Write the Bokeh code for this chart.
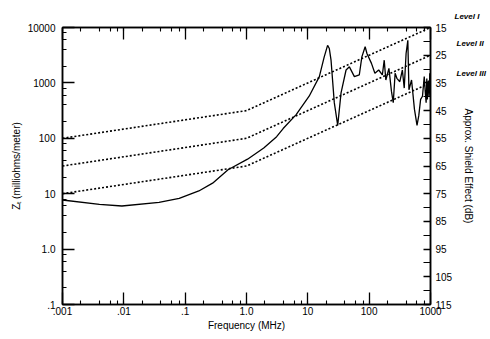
import math
import numpy as np
from bokeh.plotting import figure
from bokeh.models import (Range1d, LinearAxis, LogAxis, LogTicker, FixedTicker,
                          CustomJSTickFormatter, LinearScale)
from bokeh.embed import file_html
from bokeh.resources import INLINE

# Transfer impedance curve (frequency in MHz, Zt in milliohms/meter)
freq_mhz = [0.001, 0.004, 0.0093, 0.0375, 0.08, 0.167, 0.28, 0.5, 1.04, 1.91,
            3.1, 3.96, 6.45, 10.5, 15.4, 18.5, 21, 22.4, 23.9, 27, 30.7, 34.8,
            42, 47.6, 57.4, 69, 76, 86, 92, 109, 124, 143, 164, 176, 187, 210,
            231, 247, 265, 283, 316, 348, 373, 400, 427, 445, 491, 547, 603,
            644, 690, 740, 791, 820, 849, 870, 890, 910, 930, 948, 960, 973,
            985, 1000]
zt = [7.7, 6.4, 6.0, 7.0, 8.2, 11.2, 15.5, 27, 42, 67,
      107, 150, 268, 575, 1300, 2950, 4770, 4170, 2570, 440, 171, 659,
      1710, 1950, 1300, 1390, 2950, 4500, 3390, 2250, 1490, 1710, 1390, 2570, 1130, 1830,
      703, 440, 1490, 1210, 1050, 1710, 807, 3390, 5860, 753, 1130, 336, 171,
      256, 504, 575, 1300, 700, 440, 1200, 500, 988, 1100, 575, 700, 1490,
      1300, 900]

# Shielding level lines
level_freq = [0.001, 1.0, 1000.0]
level_1 = [100, 316, 10000]
level_2 = [31.6, 100, 3162]
level_3 = [10, 31.6, 1000]
level_names = ["Level I", "Level II", "Level III"]

x_tick_labels = [".001", ".01", ".1", "1.0", "10", "100", "1000"]
y_tick_labels = [".1", "1.0", "10", "100", "1000", "10000"]
db_ticks = [15, 25, 35, 45, 55, 65, 75, 85, 95, 105, 115]
db_minor = [20, 30, 40, 50, 60, 70, 80, 90, 100, 110]

FONT = "Liberation Sans"

p = figure(x_axis_type="log", y_axis_type="log",
           x_range=Range1d(0.001, 1000), y_range=Range1d(0.1, 10000),
           width=490, height=336,
           min_border_left=62, min_border_top=27, min_border_right=60, min_border_bottom=32,
           output_backend="svg", toolbar_location=None)
p.xgrid.visible = False
p.ygrid.visible = False
p.outline_line_color = "black"
p.outline_line_width = 1.5
p.background_fill_color = "white"
p.border_fill_color = "white"

# "Level I" label sits above the frame, right of the plot
p.title.text = level_names[0]
p.title.align = "left"
p.title.offset = 392
p.title.standoff = 14
p.title.text_font = FONT
p.title.text_font_size = "8px"
p.title.text_font_style = "bold italic"
p.title.text_color = "black"

xticker = LogTicker()
yticker = LogTicker()

def style_axis(ax, maj_in=12, min_in=4):
    ax.major_tick_in = maj_in
    ax.major_tick_out = 0
    ax.minor_tick_in = min_in
    ax.minor_tick_out = 0
    ax.axis_line_width = 1.5
    ax.major_tick_line_width = 1.3
    ax.minor_tick_line_width = 1.1
    ax.axis_line_color = "black"
    ax.major_tick_line_color = "black"
    ax.minor_tick_line_color = "black"
    ax.major_label_text_font = FONT
    ax.major_label_text_font_size = "10px"
    ax.major_label_text_color = "black"
    ax.axis_label_text_font = FONT
    ax.axis_label_text_font_size = "10px"
    ax.axis_label_text_font_style = "normal"
    ax.axis_label_text_color = "black"

xa = p.xaxis[0]
xa.ticker = xticker
xa.formatter = CustomJSTickFormatter(args=dict(labels=x_tick_labels),
    code="const e = Math.round(Math.log10(tick)) + 3; return (e >= 0 && e < labels.length) ? labels[e] : '';")
xa.axis_label = "Frequency (MHz)"
style_axis(xa)
xa.major_label_standoff = 2
xa.axis_label_standoff = 2

ya = p.yaxis[0]
ya.ticker = yticker
ya.formatter = CustomJSTickFormatter(args=dict(labels=y_tick_labels),
    code="const e = Math.round(Math.log10(tick)) + 1; return (e >= 0 && e < labels.length) ? labels[e] : '';")
ya.axis_label = "Z\u209c (milliohms/meter)"
style_axis(ya)
ya.major_label_standoff = 7
ya.axis_label_standoff = 3

top = LogAxis(ticker=xticker, formatter=CustomJSTickFormatter(code="return '';"))
style_axis(top)
top.major_label_standoff = 0
p.add_layout(top, "above")

p.extra_y_ranges = {"db": Range1d(start=115, end=15)}
p.extra_y_scales = {"db": LinearScale()}
right = LinearAxis(y_range_name="db", ticker=FixedTicker(ticks=db_ticks, minor_ticks=db_minor))
style_axis(right, maj_in=7, min_in=7)
right.major_label_standoff = 5
p.add_layout(right, "right")

# second right axis: carries the Level II / Level III names and the dB axis title
lev_pos = [20.8, 31.7]
lev_axis = LinearAxis(y_range_name="db", ticker=FixedTicker(ticks=lev_pos, minor_ticks=[]),
                      formatter=CustomJSTickFormatter(args=dict(names=level_names),
                          code="return tick < 26 ? names[1] : names[2];"),
                      axis_label="Approx. Shield Effect (dB)")
style_axis(lev_axis, maj_in=0, min_in=0)
lev_axis.axis_line_color = None
lev_axis.major_tick_line_color = None
lev_axis.minor_tick_line_color = None
lev_axis.major_label_standoff = 1
lev_axis.major_label_text_font_size = "8px"
lev_axis.major_label_text_font_style = "bold italic"
lev_axis.axis_label_standoff = -26
p.add_layout(lev_axis, "right")

for lv in (level_1, level_2, level_3):
    p.line(level_freq, lv, line_color="black", line_width=1.6, line_dash="2 2")

p.line(freq_mhz, zt, line_color="black", line_width=1.3)

open("out.html", "w").write(file_html(p, INLINE))
